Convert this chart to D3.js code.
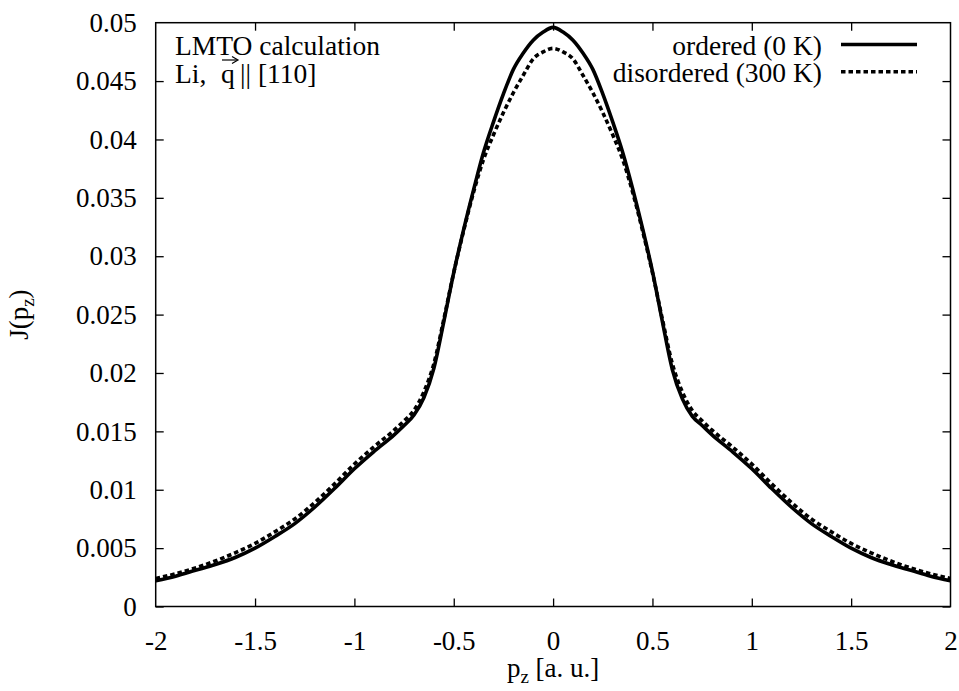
<!DOCTYPE html>
<html>
<head>
<meta charset="utf-8">
<script src="https://cdn.jsdelivr.net/npm/d3@7"></script>
<style>
  body{margin:0;background:#fff;}
  text{font-family:"Liberation Serif","Times New Roman",serif;font-size:27px;fill:#000;}
  .note text, .legend text{font-size:27.5px;}
  .frame{fill:none;stroke:#000;stroke-width:1.5;}
  .tick line{stroke:#000;stroke-width:1.3;}
  .series{fill:none;stroke:#000;stroke-width:3.6;}
</style>
</head>
<body>
<div class="canvas" id="canvas"></div>
<script>
console.log('compton profile');

// momentum grid p_z [a.u.]
var pz = [-2,-1.9,-1.8,-1.7,-1.6,-1.5,-1.4,-1.3,-1.2,-1.1,-1,-0.9,
    -0.8,-0.75,-0.7,-0.65,-0.6,-0.55,-0.5,-0.45,-0.4,-0.35,-0.3,-0.25,-0.2,-0.15,-0.1,-0.05,
    0,0.05,0.1,0.15,0.2,0.25,0.3,0.35,0.4,0.45,0.5,0.55,0.6,0.65,0.7,0.75,0.8,
    0.9,1,1.1,1.2,1.3,1.4,1.5,1.6,1.7,1.8,1.9,2];

// ordered (0 K)
var ordered = [0.0022,0.0026,0.0031,0.0036,0.0042,0.0050,0.0060,0.0071,0.0085,0.0101,0.0118,0.0133,
    0.0147,0.0155,0.0164,0.0179,0.0204,0.0244,0.0286,0.0323,0.0357,0.0389,0.0415,0.0439,0.0460,0.0474,0.0485,0.0492,
    0.0496,0.0492,0.0485,0.0474,0.0460,0.0439,0.0415,0.0389,0.0358,0.0324,0.0287,0.0244,0.0203,0.0178,0.0163,0.0155,0.0147,
    0.0133,0.0118,0.0101,0.0085,0.0071,0.0060,0.0050,0.0042,0.0036,0.0031,0.0026,0.0022];

// disordered (300 K)
var disordered = [0.0024,0.0028,0.0033,0.0039,0.0046,0.0054,0.0064,0.0075,0.0089,0.0105,0.0122,0.0137,
    0.0151,0.0159,0.0168,0.0184,0.0208,0.0246,0.0286,0.0322,0.0355,0.0383,0.0404,0.0423,0.0440,0.0455,0.0469,0.0475,
    0.0478,0.0475,0.0469,0.0455,0.0440,0.0423,0.0404,0.0383,0.0355,0.0322,0.0286,0.0246,0.0208,0.0184,0.0168,0.0159,0.0151,
    0.0137,0.0122,0.0105,0.0089,0.0075,0.0064,0.0054,0.0046,0.0039,0.0033,0.0028,0.0024];

var xTicks = [-2,-1.5,-1,-0.5,0,0.5,1,1.5,2];
var yTicks = [0,0.005,0.01,0.015,0.02,0.025,0.03,0.035,0.04,0.045,0.05];
var legendNames = ['ordered (0 K)','disordered (300 K)'];

var m = {t:22.7,r:8.5,b:84.5,l:155.7},
    W = 959, H = 691,
    w = W - m.l - m.r,
    h = H - m.t - m.b;

var svg = d3.select('.canvas')
    .append('svg')
    .attr('width', W)
    .attr('height', H);

var plot = svg.append('g').attr('class','plot')
    .attr('transform','translate('+ m.l+','+ m.t+')');

var scaleX = d3.scaleLinear().domain([-2,2]).range([0,w]);
var scaleY = d3.scaleLinear().domain([0,0.05]).range([h,0]);

//tick formatting like gnuplot (no trailing zeros)
var fmt = function(d){ return String(+d.toFixed(4)); };

//axes with inward ticks, mirrored on top and right
var axisB = d3.axisBottom(scaleX).tickValues(xTicks).tickFormat(fmt).tickSizeInner(-8).tickSizeOuter(0).tickPadding(24);
var axisT = d3.axisTop(scaleX).tickValues(xTicks).tickFormat('').tickSizeInner(-8).tickSizeOuter(0);
var axisL = d3.axisLeft(scaleY).tickValues(yTicks).tickFormat(fmt).tickSizeInner(-8).tickSizeOuter(0).tickPadding(19);
var axisR = d3.axisRight(scaleY).tickValues(yTicks).tickFormat('').tickSizeInner(-8).tickSizeOuter(0);

plot.append('g').attr('transform','translate(0,'+h+')').call(axisB);
plot.append('g').call(axisT);
plot.append('g').call(axisL);
plot.append('g').attr('transform','translate('+w+',0)').call(axisR);
plot.selectAll('.domain').remove();
plot.selectAll('g').attr('font-family',null).attr('font-size',null);
plot.selectAll('.tick text').attr('fill','#000');
plot.selectAll('.tick').filter(function(d){ return d===-2 || d===2 || d===0.05; }).select('line').remove();

plot.append('rect').attr('class','frame')
    .attr('x',0).attr('y',0).attr('width',w).attr('height',h);

//curves
var line = d3.line()
    .x(function(d,i){ return scaleX(pz[i]); })
    .y(function(d){ return scaleY(d); })
    .curve(d3.curveMonotoneX);

plot.append('path').attr('class','series')
    .attr('d', line(ordered));
plot.append('path').attr('class','series')
    .attr('d', line(disordered))
    .style('stroke-dasharray','4.5,3');

//legend
var legend = svg.append('g').attr('class','legend');
legendNames.forEach(function(name,i){
    var yy = 55 + i*27.2;
    legend.append('text')
        .attr('x',822).attr('y',yy)
        .attr('text-anchor','end')
        .text(name);
    legend.append('line')
        .attr('class','series')
        .attr('x1',841).attr('x2',917)
        .attr('y1',yy-10.5).attr('y2',yy-10.5)
        .style('stroke-dasharray', i===1 ? '4.5,3' : null);
});

//annotation: "Li, q-vector || [110]"
var note = svg.append('g').attr('class','note');
note.append('text').attr('x',175).attr('y',55).text('LMTO calculation');
var l2 = note.append('text').attr('x',175).attr('y',82.5);
l2.append('tspan').text('Li,');
l2.append('tspan').attr('x',221).text('q');
l2.append('tspan').attr('x',240).text('|| [110]');
note.append('line')
    .attr('x1',222).attr('x2',237).attr('y1',60).attr('y2',60)
    .style('stroke','#000').style('stroke-width',1.2);
note.append('path')
    .attr('d','M232,56.5 L238,60 L232,63.5')
    .style('fill','none').style('stroke','#000').style('stroke-width',1.2);

//axis titles
var xt = svg.append('text')
    .attr('x', m.l + w/2).attr('y',677)
    .attr('text-anchor','middle');
xt.append('tspan').text('p');
xt.append('tspan').attr('dy',6).style('font-size','19px').text('z');
xt.append('tspan').attr('dy',-6).text(' [a. u.]');

var yt = svg.append('text')
    .attr('transform','translate(28,'+(m.t+h/2)+') rotate(-90)')
    .attr('text-anchor','middle');
yt.append('tspan').text('J(p');
yt.append('tspan').attr('dy',6).style('font-size','19px').text('z');
yt.append('tspan').attr('dy',-6).text(')');
</script>
</body>
</html>
